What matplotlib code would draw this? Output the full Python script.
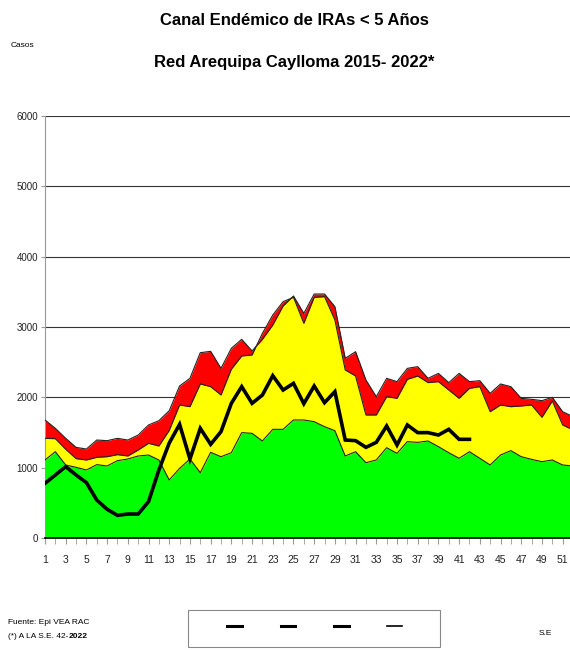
import numpy as np
import matplotlib
matplotlib.use("Agg")
import matplotlib.pyplot as plt
from matplotlib.lines import Line2D
from matplotlib.patches import Rectangle

plt.rcParams['font.family'] = ['Liberation Sans', 'DejaVu Sans']

# semanas epidemiologicas
semanas = list(range(1, 53))

# limites del canal endemico (casos)
exito = [1109, 1227, 1038, 1005, 967, 1043, 1024, 1100, 1123, 1166, 1180, 1109, 825,
         990, 1123, 929, 1218, 1156, 1213, 1498, 1488, 1379, 1545, 1545, 1678, 1678,
         1654, 1583, 1526, 1166, 1227, 1071, 1109, 1284, 1204, 1370, 1360, 1379, 1299,
         1213, 1133, 1227, 1133, 1038, 1180, 1242, 1156, 1118, 1085, 1109, 1038, 1024]
seguridad = [1417, 1412, 1261, 1128, 1109, 1147, 1156, 1185, 1166, 1251, 1346, 1308, 1530,
             1891, 1867, 2190, 2152, 2033, 2400, 2588, 2602, 2910, 3170, 3360, 3422, 3052,
             3422, 3431, 3100, 2389, 2303, 1749, 1749, 2009, 1986, 2256, 2303, 2209, 2223,
             2104, 1986, 2128, 2152, 1796, 1891, 1867, 1877, 1891, 1716, 1948, 1607, 1536]
alarma = [1678, 1559, 1417, 1289, 1265, 1393, 1384, 1417, 1393, 1464, 1607, 1668, 1810,
          2161, 2270, 2635, 2654, 2412, 2697, 2825, 2659, 2825, 3028, 3299, 3441, 3194,
          3469, 3469, 3289, 2555, 2649, 2246, 2009, 2270, 2223, 2412, 2436, 2270, 2341,
          2209, 2341, 2223, 2237, 2057, 2190, 2152, 1986, 1972, 1953, 2000, 1796, 1725]

# casos 2022 hasta la SE 42
semanas_2022 = list(range(1, 43))
casos_2022 = [777, 896, 1014, 896, 787, 540, 408, 322, 341, 341, 517, 967, 1350, 1616,
              1123, 1559, 1332, 1512, 1915, 2152, 1915, 2033, 2308, 2104, 2199, 1910,
              2161, 1924, 2081, 1393, 1384, 1289, 1360, 1592, 1322, 1607, 1498, 1498,
              1464, 1545, 1403, 1403]

fig = plt.figure(figsize=(5.7, 6.5), dpi=100)
ax = fig.add_axes([45/570, 112/650, 528/570, 422/650])

ax.fill_between(semanas, 0, exito, color='#00ff00', lw=0, zorder=2)
ax.fill_between(semanas, exito, seguridad, color='#ffff00', lw=0, zorder=2)
ax.fill_between(semanas, seguridad, alarma, color='#ff0000', lw=0, zorder=2)
for serie in (exito, seguridad, alarma):
    ax.plot(semanas, serie, color='#222222', lw=0.8, zorder=3)
ax.plot(semanas_2022, casos_2022, color='black', lw=2.6, zorder=4,
        solid_joinstyle='miter')

ax.set_xlim(1, 52)
ax.set_ylim(0, 6000)
ax.set_yticks(range(0, 6001, 1000))
ax.set_xticks(range(1, 52, 2))
ax.set_xticks(range(1, 53), minor=True)
ax.grid(axis='y', color='#333333', lw=0.8, zorder=1)
ax.tick_params(axis='y', length=3, color='#999999', labelsize=7, pad=2, labelcolor='#222222')
ax.tick_params(axis='x', which='both', length=4, color='#999999', labelsize=7.5, pad=8,
               labelcolor='#222222')
for s in ('top', 'right'):
    ax.spines[s].set_visible(False)
ax.spines['left'].set_color('#999999')
ax.spines['bottom'].set_color('black')
ax.spines['bottom'].set_linewidth(1.2)
ax.set_axisbelow(True)

fig.text(0.516, 0.968, 'Canal Endémico de IRAs < 5 Años', ha='center', va='center',
         fontsize=12, fontweight='bold')
fig.text(0.516, 0.904, 'Red Arequipa Caylloma 2015- 2022*', ha='center', va='center',
         fontsize=12, fontweight='bold')
fig.text(0.018, 0.930, 'Casos', fontsize=6, va='center')

fig.text(0.014, 0.043, 'Fuente: Epi VEA RAC', fontsize=6, va='center')
t1 = fig.text(0.014, 0.020, '(*) A LA S.E. 42-', fontsize=6, va='center')
r = fig.canvas.get_renderer()
bb = t1.get_window_extent(r).transformed(fig.transFigure.inverted())
fig.text(bb.x1, 0.020, '2022', fontsize=6, va='center', fontweight='bold')
fig.text(0.945, 0.026, 'S.E', fontsize=6, va='center')

# recuadro de la leyenda
fig.add_artist(Rectangle((188/570, 3/650), 252/570, 37/650, transform=fig.transFigure,
                         fill=False, edgecolor='#888888', lw=0.8))
handles = [Line2D([], [], color='black', lw=2.2),
           Line2D([], [], color='black', lw=2.2),
           Line2D([], [], color='black', lw=2.2),
           Line2D([], [], color='black', lw=1.2)]
fig.legend(handles, ['', '', '', ''], ncol=4, loc='center',
           bbox_to_anchor=(0.552, 0.035), handlelength=1.3, columnspacing=3.5,
           handletextpad=0.0, frameon=False, borderaxespad=0, fontsize=8)

fig.savefig('out.png', dpi=100)
